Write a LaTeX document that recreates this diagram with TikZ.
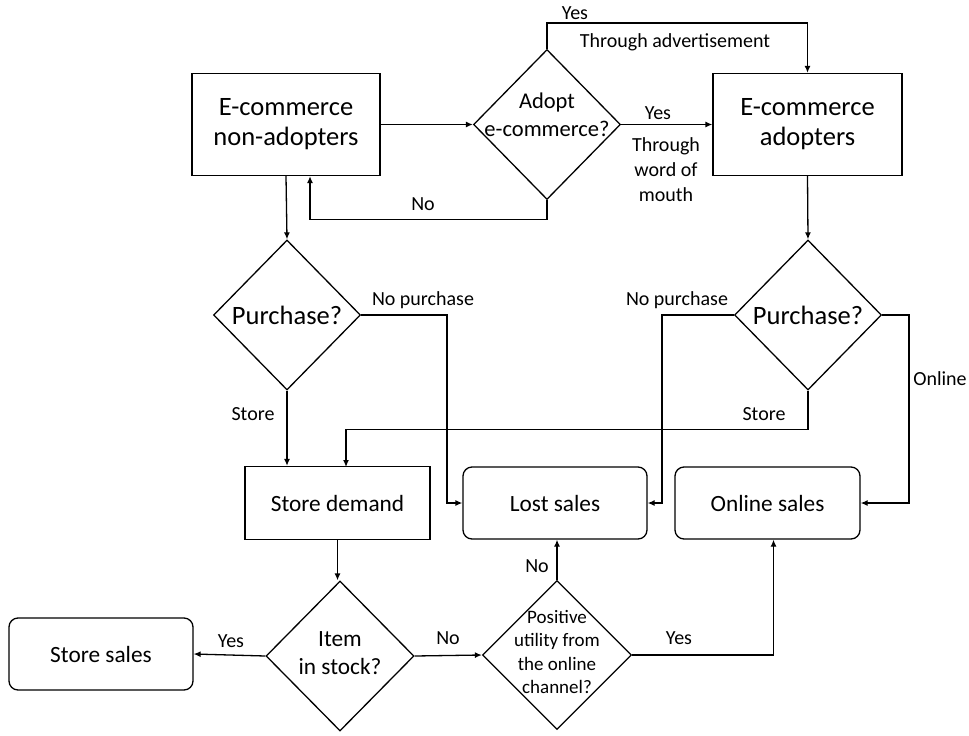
\documentclass[tikz,border=0pt]{standalone}
\usepackage{fontspec}
\setmainfont{Carlito}
\usetikzlibrary{shapes.geometric,arrows.meta}
\begin{document}
\begin{tikzpicture}[x=1pt,y=-1pt,
  box/.style={draw,line width=1.3pt,inner sep=0pt,align=center},
  rbox/.style={box,rounded corners=9pt},
  dia/.style={draw,diamond,line width=1.3pt,inner sep=0pt,minimum width=147pt,minimum height=150pt},
  dtext/.style={inner sep=0pt,align=center},
  arr/.style={line width=1.3pt,-{Latex[length=7pt,width=6pt]}},
  lbl/.style={font=\fontsize{20}{24}\selectfont,inner sep=0pt,align=center}
]
\useasboundingbox (0,0) rectangle (969,736);
% nodes
\node[box,minimum width=188pt,minimum height=102pt,font=\fontsize{26.5}{30}\selectfont] (nonad) at (286,124.5) {E-commerce\\non-adopters};
\node[dia] (adopt) at (547,124.5) {};
\node[dtext,font=\fontsize{22.5}{28}\selectfont] (adoptt) at ([yshift=10pt]adopt.center) {Adopt\\e-commerce?};
\node[box,minimum width=189pt,minimum height=102pt,font=\fontsize{26.5}{30}\selectfont] (adopters) at (807.5,124.5) {E-commerce\\adopters};
\node[dia] (p1) at (287,315) {};
\node[dtext,font=\fontsize{26.5}{30}\selectfont] (p1t) at (p1.center) {Purchase?};
\node[dia] (p2) at (808,315) {};
\node[dtext,font=\fontsize{26.5}{30}\selectfont] (p2t) at (p2.center) {Purchase?};
\node[box,minimum width=185pt,minimum height=73pt,font=\fontsize{23.3}{28}\selectfont] (sd) at (337.5,503) {Store demand};
\node[rbox,minimum width=184pt,minimum height=72pt,font=\fontsize{23.3}{28}\selectfont] (lost) at (555,503) {Lost sales};
\node[rbox,minimum width=185pt,minimum height=72pt,font=\fontsize{23.3}{28}\selectfont] (online) at (767.5,503) {Online sales};
\node[rbox,minimum width=184pt,minimum height=72pt,font=\fontsize{23.3}{28}\selectfont] (ssales) at (101,654) {Store sales};
\node[dia,minimum width=148pt] (item) at (340,656) {};
\node[dtext,font=\fontsize{23.3}{28}\selectfont] (itemt) at ([yshift=3pt]item.center) {Item\\in stock?};
\node[dia,minimum width=149pt,minimum height=149pt] (pos) at (557,655) {};
\node[dtext,font=\fontsize{19}{23.3}\selectfont] (post) at ([yshift=3pt]pos.center) {Positive\\utility from\\the online\\channel?};
% connectors
\draw[arr] (nonad.east) -- (adopt.west);
\draw[arr] (adopt.east) -- (adopters.west);
\draw[arr] (adopt.north) -- (adopt.north |- 0,23) -| (adopters.north);
\draw[arr] (adopt.south) -- ++(0,19) -| ([xshift=24pt]nonad.south);
\draw[arr] (nonad.south) -- (p1.north);
\draw[arr] (adopters.south) -- (p2.north);
\draw[arr] (p1.east) -- (447,315) |- (lost.west);
\draw[arr] (p1.south) -- (p1.south |- sd.north);
\draw[arr] (p2.south) -- ++(0,39) -| (346,467);
\draw[arr] (p2.west) -- (662,315) |- (lost.east);
\draw[arr] (p2.east) -- (909,315) |- (online.east);
\draw[arr] (sd.south) -- (sd.south |- item.north);
\draw[arr] (item.west) -- (ssales.east);
\draw[arr] (item.east) -- (pos.west);
\draw[arr] (pos.north) -- (pos.north |- lost.south);
\draw[arr] (pos.east) -| ([xshift=6pt]online.south);
% labels
\node[lbl] (l1) at (575,13) {Yes};
\node[lbl] (l2) at (675,42) {Through advertisement};
\node[lbl] (l3) at (658,113) {Yes};
\node[lbl,font=\fontsize{20}{25}\selectfont] (l4) at (666,170) {Through\\word of\\mouth};
\node[lbl] (l5) at (423,204) {No};
\node[lbl] (l6) at (423,300) {No purchase};
\node[lbl] (l7) at (677,300) {No purchase};
\node[lbl] (l8) at (253,414) {Store};
\node[lbl] (l9) at (764,414) {Store};
\node[lbl] (l10) at (940,379) {Online};
\node[lbl] (l11) at (231,641) {Yes};
\node[lbl] (l12) at (448,638) {No};
\node[lbl] (l13) at (537,566) {No};
\node[lbl] (l14) at (679,638) {Yes};
\end{tikzpicture}
\end{document}
